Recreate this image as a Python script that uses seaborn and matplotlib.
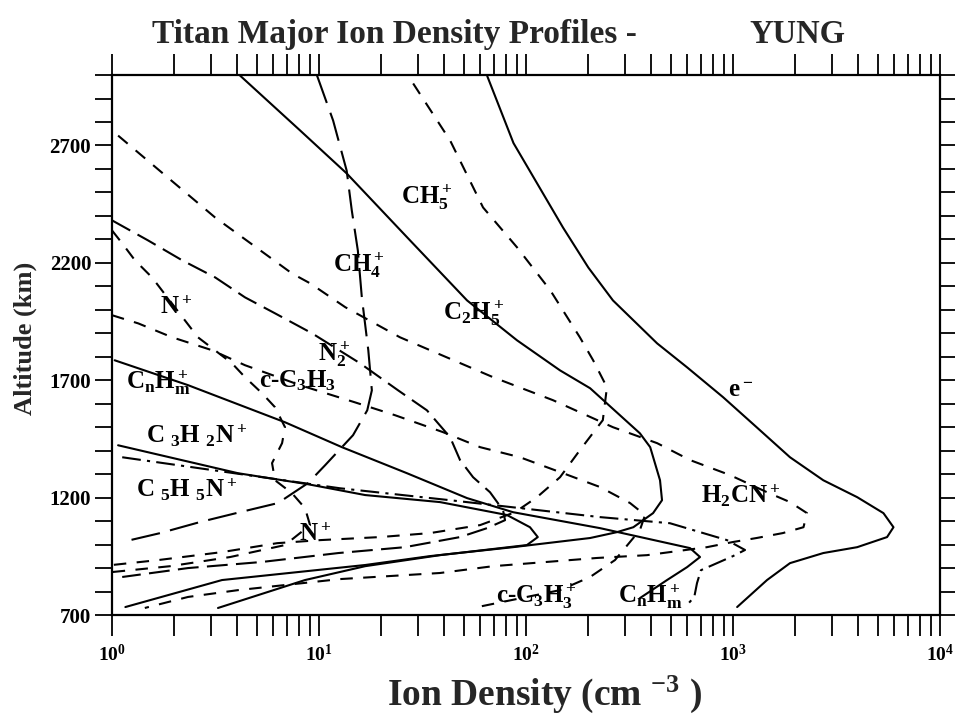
import numpy as np
import pandas as pd
import matplotlib
matplotlib.use("Agg")
import matplotlib.pyplot as plt
from matplotlib.ticker import FixedLocator, LogLocator, LogFormatterMathtext, NullFormatter
import seaborn as sns

# ---- ion density profiles: altitude (km) vs density (cm^-3) ----
E_ALT = [2995, 2710, 2350, 2180, 2040, 1857, 1755, 1628, 1500, 1372, 1274, 1202, 1134, 1074,
         1032, 989, 964, 921, 849, 734]
E_DENS = [65, 87, 151, 200, 263, 430, 600, 895, 1300, 1885, 2730, 3980, 5330, 5960,
          5550, 3980, 2730, 1885, 1460, 1047]

C2H5_ALT = [2998, 2764, 2581, 2296, 2040, 1870, 1742, 1666, 1474, 1415, 1274, 1189, 1134,
            1074, 1053, 1028, 989, 951, 913, 849, 734]
C2H5_DENS = [4.15, 8.1, 13.6, 27.5, 51.9, 90.5, 146, 204, 355, 398, 444, 454, 411,
             330, 275, 204, 86.5, 34.4, 16.7, 3.4, 1.16]

CNHM_ALT = [1785, 1679, 1521, 1415, 1304, 1198, 1138, 1070, 985, 947, 904, 849, 772]
CNHM_DENS = [1.03, 2.33, 6.85, 12.9, 26.6, 51.9, 86.5, 228, 620, 693, 600, 480, 355]

C3H2N_ALT = [1423, 1304, 1257, 1211, 1181, 1126, 1074, 1032, 998, 955, 908, 849, 730]
C3H2N_DENS = [1.07, 4.06, 8.85, 16.7, 38.4, 80.9, 104.5, 114, 101, 38.4, 16.7, 8.56, 3.25]

C5H5N_ALT = [1372, 1240, 1189, 1117, 1091, 1019, 977, 951, 891, 836, 777, 743]
C5H5N_DENS = [1.12, 12.6, 43, 228, 496, 935, 1143, 1000, 700, 670, 650, 600]

CH5_ALT = [2964, 2721, 2436, 2266, 2083, 1883, 1785, 1670, 1530, 1402, 1287, 1202, 1138,
           1083, 1049, 1032, 1019, 1006, 968, 934, 913]
CH5_DENS = [28.5, 43, 62, 90.5, 131, 182, 211, 246, 235, 182, 146, 113, 88.5,
            60, 34.4, 19.7, 10.1, 6.27, 3.4, 1.67, 1.0]

H2CN_ALT = [2742, 2393, 2155, 2113, 2011, 1883, 1713, 1615, 1500, 1432, 1360, 1296, 1223,
            1181, 1134, 1074, 1049, 1028, 1011, 989, 955, 943, 908, 879, 853, 806, 777, 730]
H2CN_DENS = [1.07, 3.15, 7.4, 9.05, 13.4, 24.6, 69.3, 135, 263, 430, 620, 967, 1460,
             1885, 2277, 2190, 1740, 1300, 1000, 748, 384, 220, 69.3, 38.4, 12.6, 4.06,
             2.33, 1.44]

CC3H3_ALT = [1977, 1942, 1883, 1828, 1764, 1679, 1606, 1551, 1479, 1415, 1372, 1304, 1245,
             1177, 1126, 1062, 934, 862, 806, 730]
CC3H3_DENS = [1.0, 1.34, 1.95, 3.04, 4.39, 8.1, 14.9, 23.3, 39.7, 60, 93.5, 151, 228,
              318, 376, 355, 269, 204, 146, 55.5]

NP_ALT = [2338, 2283, 2211, 2138, 1955, 1883, 1772, 1713, 1645, 1585, 1500, 1432, 1347,
          1274, 1219, 1155, 1083, 998, 947, 908, 883]
NP_DENS = [1.0, 1.12, 1.29, 1.56, 2.25, 2.6, 3.8, 4.39, 5.3, 6.13, 6.85, 6.63, 5.93,
           6.13, 7.4, 8.56, 9.05, 6.85, 3.72, 1.91, 1.0]

N2_ALT = [2381, 2296, 2211, 2138, 2053, 1985, 1900, 1772, 1657, 1572, 1457, 1360, 1287,
          1223, 1147, 1104, 1070, 1032, 989, 964, 926, 900, 862]
N2_DENS = [1.0, 1.49, 2.18, 3.15, 4.39, 6.13, 9.25, 15.8, 24.1, 33.2, 43, 48, 55.5,
           67, 77.4, 79.2, 64.8, 48, 26, 12.4, 5.3, 2.33, 1.12]

CH4_ALT = [2998, 2806, 2593, 2423, 2253, 2053, 1828, 1657, 1572, 1466, 1415, 1338, 1262,
           1211, 1177, 1138, 1096, 1049, 1011]
CH4_DENS = [9.78, 11.7, 13.6, 14.4, 15.4, 16.1, 17.3, 18.0, 17.1, 14.6, 12.9, 10.7, 8.85,
            7.24, 6.34, 4.15, 2.66, 1.71, 1.12]

# ---- curve labels: text, density, altitude ----
LABEL_TEXT = [r"CH$_5^+$", r"CH$_4^+$", r"C$_2$H$_5^+$", r"N$^+$", r"N$_2^+$",
              r"c-C$_3$H$_3$", r"C$_n$H$_m^+$", r"C $_3$H $_2$N$^+$", r"C $_5$H $_5$N$^+$",
              r"N$^+$", r"e$^-$", r"H$_2$CN$^+$", r"c-C$_3$H$_3^+$", r"C$_n$H$_m^+$"]
LABEL_DENS = [33, 15.5, 56, 2.05, 11.8, 7.9, 1.68, 2.55, 2.3, 9.6, 1090, 1090, 112, 400]
LABEL_ALT = [2480, 2190, 1985, 2010, 1810, 1700, 1690, 1465, 1235, 1045, 1655, 1210, 778, 778]

YTICKS = [700, 1200, 1700, 2200, 2700]
TITLE_LEFT = "Titan Major Ion Density Profiles -"
TITLE_RIGHT = "YUNG"

sns.set_theme(style="ticks")
plt.rcParams["font.family"] = ["Liberation Serif", "DejaVu Serif"]
plt.rcParams["font.weight"] = "bold"
plt.rcParams["mathtext.fontset"] = "custom"
plt.rcParams["mathtext.rm"] = "Liberation Serif:bold"
plt.rcParams["mathtext.it"] = "Liberation Serif:bold"
plt.rcParams["mathtext.bf"] = "Liberation Serif:bold"
plt.rcParams["mathtext.default"] = "rm"

fig = plt.figure(figsize=(9.55, 7.2), dpi=100)
ax = fig.add_axes([0.1173, 0.1458, 0.867, 0.750])

SHORT = (0, (6, 5))
LONG = (0, (10, 4))
VLONG = (0, (14, 5))
DASHDOT = (0, (9, 3, 1.5, 3))

curves = [
    (E_DENS, E_ALT, "-"),
    (C2H5_DENS, C2H5_ALT, "-"),
    (CNHM_DENS, CNHM_ALT, "-"),
    (C3H2N_DENS, C3H2N_ALT, "-"),
    (C5H5N_DENS, C5H5N_ALT, DASHDOT),
    (CH5_DENS, CH5_ALT, SHORT),
    (H2CN_DENS, H2CN_ALT, SHORT),
    (CC3H3_DENS, CC3H3_ALT, SHORT),
    (NP_DENS, NP_ALT, SHORT),
    (N2_DENS, N2_ALT, LONG),
    (CH4_DENS, CH4_ALT, VLONG),
]

for dens, alt, ls in curves:
    df = pd.DataFrame({"dens": dens, "alt": alt})
    sns.lineplot(data=df, x="dens", y="alt", sort=False, estimator=None,
                 color="black", lw=1.5, ax=ax)
    ax.lines[-1].set_linestyle(ls)

ax.set_xscale("log")
ax.set_xlim(1, 1e4)
ax.set_ylim(700, 3000)
ax.set_xlabel("")
ax.set_ylabel("")

ax.xaxis.set_major_locator(LogLocator(base=10, numticks=10))
ax.xaxis.set_minor_locator(LogLocator(base=10, subs=np.arange(2, 10), numticks=20))
ax.xaxis.set_major_formatter(LogFormatterMathtext())
ax.xaxis.set_minor_formatter(NullFormatter())
ax.yaxis.set_major_locator(FixedLocator(YTICKS))
ax.yaxis.set_minor_locator(FixedLocator(np.arange(700, 3001, 100)))

for sp in ax.spines.values():
    sp.set_visible(True)
    sp.set_linewidth(1.6)
    sp.set_color("black")

ax.tick_params(axis="x", which="both", direction="out", top=True, bottom=True,
               length=15, width=1.3, colors="black", labelsize=14, pad=6)
ax.tick_params(axis="y", which="both", direction="out", left=True, right=True,
               length=12, width=1.3, colors="black", labelsize=15, pad=3)
for lab in ax.get_xticklabels() + ax.get_yticklabels():
    lab.set_fontweight("bold")

for txt, d, a in zip(LABEL_TEXT, LABEL_DENS, LABEL_ALT):
    ax.text(d, a, txt, ha="center", va="center", fontsize=18, fontweight="bold",
            color="black")

fig.text(0.159, 0.952, TITLE_LEFT, ha="left", va="center", fontsize=24, fontweight="bold")
fig.text(0.785, 0.952, TITLE_RIGHT, ha="left", va="center", fontsize=23.5, fontweight="bold")
fig.text(0.570, 0.035, r"Ion Density (cm $^{-3}$ )", ha="center", va="center",
         fontsize=27, fontweight="bold")
fig.text(0.026, 0.53, "Altitude (km)", ha="center", va="center", rotation=90,
         fontsize=19, fontweight="bold")

fig.savefig("out.png", dpi=100, facecolor="white")
